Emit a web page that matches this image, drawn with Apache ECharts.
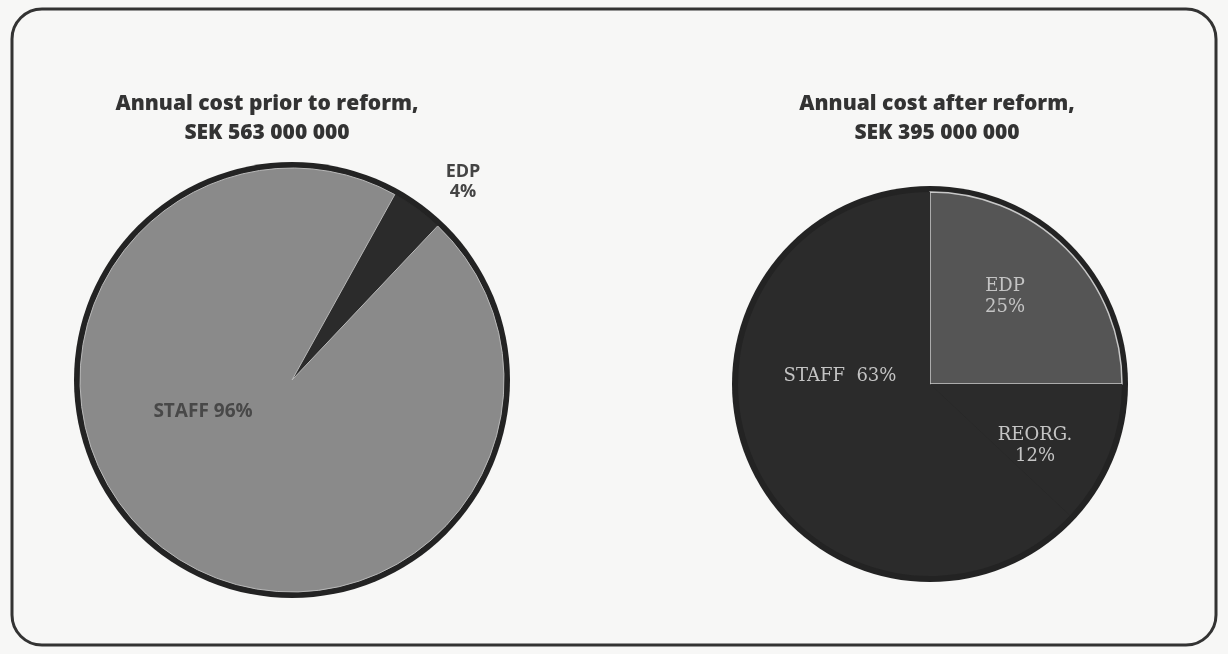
<!DOCTYPE html>
<html>
<head>
<meta charset="utf-8">
<script src="https://cdn.jsdelivr.net/npm/echarts@6/dist/echarts.min.js"></script>
<style>
  html, body { margin: 0; padding: 0; background: #f7f7f6; }
  #chart { width: 1228px; height: 654px; }
</style>
</head>
<body>
<div id="chart"></div>
<script>
// cost shares before and after the reform
var beforeNames = ['EDP', 'STAFF'];
var beforeValues = [4, 96];
var beforeLabels = ['EDP\n4%', 'STAFF 96%'];

var afterNames = ['EDP', 'REORG.', 'STAFF'];
var afterValues = [25, 12, 63];
var afterLabels = ['EDP\n25%', 'REORG.\n12%', 'STAFF  63%'];

var titles = [
  'Annual cost prior to reform,\nSEK 563 000 000',
  'Annual cost after reform,\nSEK 395 000 000'
];

var chart = echarts.init(document.getElementById('chart'));

var leftCenter = [292, 380];
var rightCenter = [930, 384];

// label spots, relative to each pie centre
var leftLabelPos = [[171, -198], [-89, 32]];
var rightLabelPos = [[75, -87], [105, 62], [-90, -8]];

function ring(center, r) {
  return {
    type: 'pie', center: center, radius: r, silent: true,
    label: { show: false }, labelLine: { show: false },
    itemStyle: { color: '#232323' },
    data: [{ value: 1, name: '' }]
  };
}

var leftColors = ['#2b2b2b', '#8a8a8a'];
var rightColors = ['#555555', '#2b2b2b', '#2b2b2b'];

var option = {
  backgroundColor: '#f7f7f6',
  animation: false,
  title: titles.map(function (t, i) {
    return {
      text: t,
      left: i === 0 ? 262 : 932,
      top: 85,
      textAlign: 'center',
      textStyle: {
        fontFamily: 'Open Sans', fontWeight: 800, fontSize: 21,
        color: '#333', lineHeight: 29
      }
    };
  }),
  graphic: [{
    type: 'rect',
    shape: { x: 12, y: 9, width: 1204, height: 636, r: 30 },
    style: { fill: 'none', stroke: '#333', lineWidth: 3 },
    silent: true
  }],
  series: [
    ring(leftCenter, 218),
    {
      type: 'pie', center: leftCenter, radius: 212,
      startAngle: 61, clockwise: true,
      data: beforeNames.map(function (n, i) {
        return {
          name: n, value: beforeValues[i],
          itemStyle: { color: leftColors[i], borderColor: i === 1 ? '#b8b8b8' : leftColors[i], borderWidth: 1 },
          label: i === 0
            ? { color: '#444', fontSize: 18 }
            : { color: '#484848', fontSize: 19, textShadowColor: '#b0b0b0', textShadowOffsetX: -1, textShadowOffsetY: -1, textShadowBlur: 0 }
        };
      }),
      label: {
        show: true, position: 'inside',
        fontFamily: 'Open Sans', fontWeight: 'bold', lineHeight: 20,
        formatter: function (p) { return beforeLabels[p.dataIndex]; }
      },
      labelLine: { show: false },
      labelLayout: function (p) {
        var d = leftLabelPos[p.dataIndex];
        return { x: leftCenter[0] + d[0], y: leftCenter[1] + d[1] };
      }
    },
    ring(rightCenter, 198),
    {
      type: 'pie', center: rightCenter, radius: 192,
      startAngle: 90, clockwise: true,
      data: afterNames.map(function (n, i) {
        return {
          name: n, value: afterValues[i],
          itemStyle: {
            color: rightColors[i],
            borderColor: i === 0 ? '#c8c8c8' : rightColors[i],
            borderWidth: i === 0 ? 1.5 : 0
          }
        };
      }),
      label: {
        show: true, position: 'inside',
        fontFamily: 'DejaVu Serif', fontSize: 18, lineHeight: 21,
        color: '#c4c4c4',
        textShadowColor: '#111', textShadowOffsetX: 1, textShadowOffsetY: 1, textShadowBlur: 0,
        formatter: function (p) { return afterLabels[p.dataIndex]; }
      },
      labelLine: { show: false },
      labelLayout: function (p) {
        var d = rightLabelPos[p.dataIndex];
        return { x: rightCenter[0] + d[0], y: rightCenter[1] + d[1] };
      }
    }
  ]
};

chart.setOption(option);
</script>
</body>
</html>
